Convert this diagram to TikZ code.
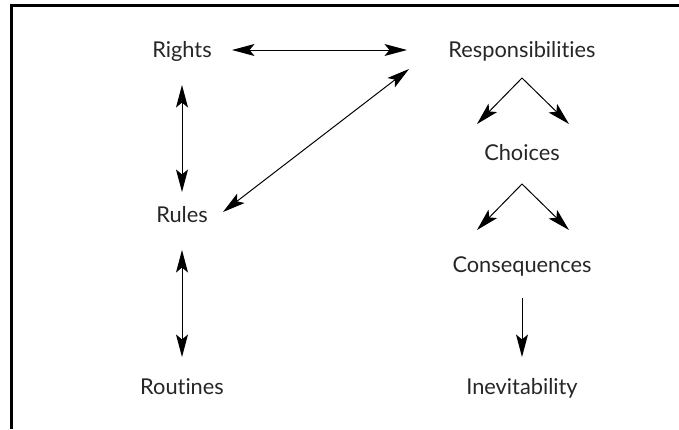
\documentclass[tikz,border=0pt]{standalone}
\usepackage{fontspec}
\setmainfont{Lato}[Ligatures={NoCommon,NoDiscretionary,NoRare}]
\usetikzlibrary{arrows.meta}

\begin{document}
\begin{tikzpicture}[x=0.025cm, y=-0.025cm, line width=0.7pt,
    >={Stealth[length=16pt, width=8.5pt, inset=3.5pt]},
    term/.style={font=\fontsize{15.5}{18}\selectfont, text=black!85, inner sep=0pt, anchor=base}]
    \useasboundingbox (0,0) rectangle (679,429);

    % Rahmen
    \draw[line width=2pt] (11.5,429) -- (11.5,5.5) -- (679,5.5);

    % Begriffe
    \node[term] (rights)   at (182,57)  {Rights};
    \node[term] (rules)    at (182,222) {Rules};
    \node[term] (routines) at (182,394) {Routines};
    \node[term] (resp)     at (522,57)  {Responsibilities};
    \node[term] (choices)  at (522,160) {Choices};
    \node[term] (cons)     at (522,272) {Consequences};
    \node[term] (inev)     at (522,394) {Inevitability};

    % Pfeile links
    \draw[<->] ([shift={(50,-7)}]rights.base) -- ([shift={(-115,-7)}]resp.base);
    \draw[<->] ([shift={(0,28)}]rights.base) -- ([shift={(0,-30)}]rules.base);
    \draw[<->] ([shift={(0,28)}]rules.base) -- ([shift={(0,-37)}]routines.base);
    \draw[<->] ([shift={(41,-10)}]rules.base) -- ([shift={(-113,12)}]resp.base);

    % Pfeile rechts
    \draw[<->] ([shift={(-45,-36)}]choices.base) -- ([shift={(0,21)}]resp.base) -- ([shift={(47,-36)}]choices.base);
    \draw[<->] ([shift={(-45,-42)}]cons.base) -- ([shift={(0,24)}]choices.base) -- ([shift={(47,-42)}]cons.base);
    \draw[->] ([shift={(0,26)}]cons.base) -- ([shift={(0,-37)}]inev.base);
\end{tikzpicture}
\end{document}
